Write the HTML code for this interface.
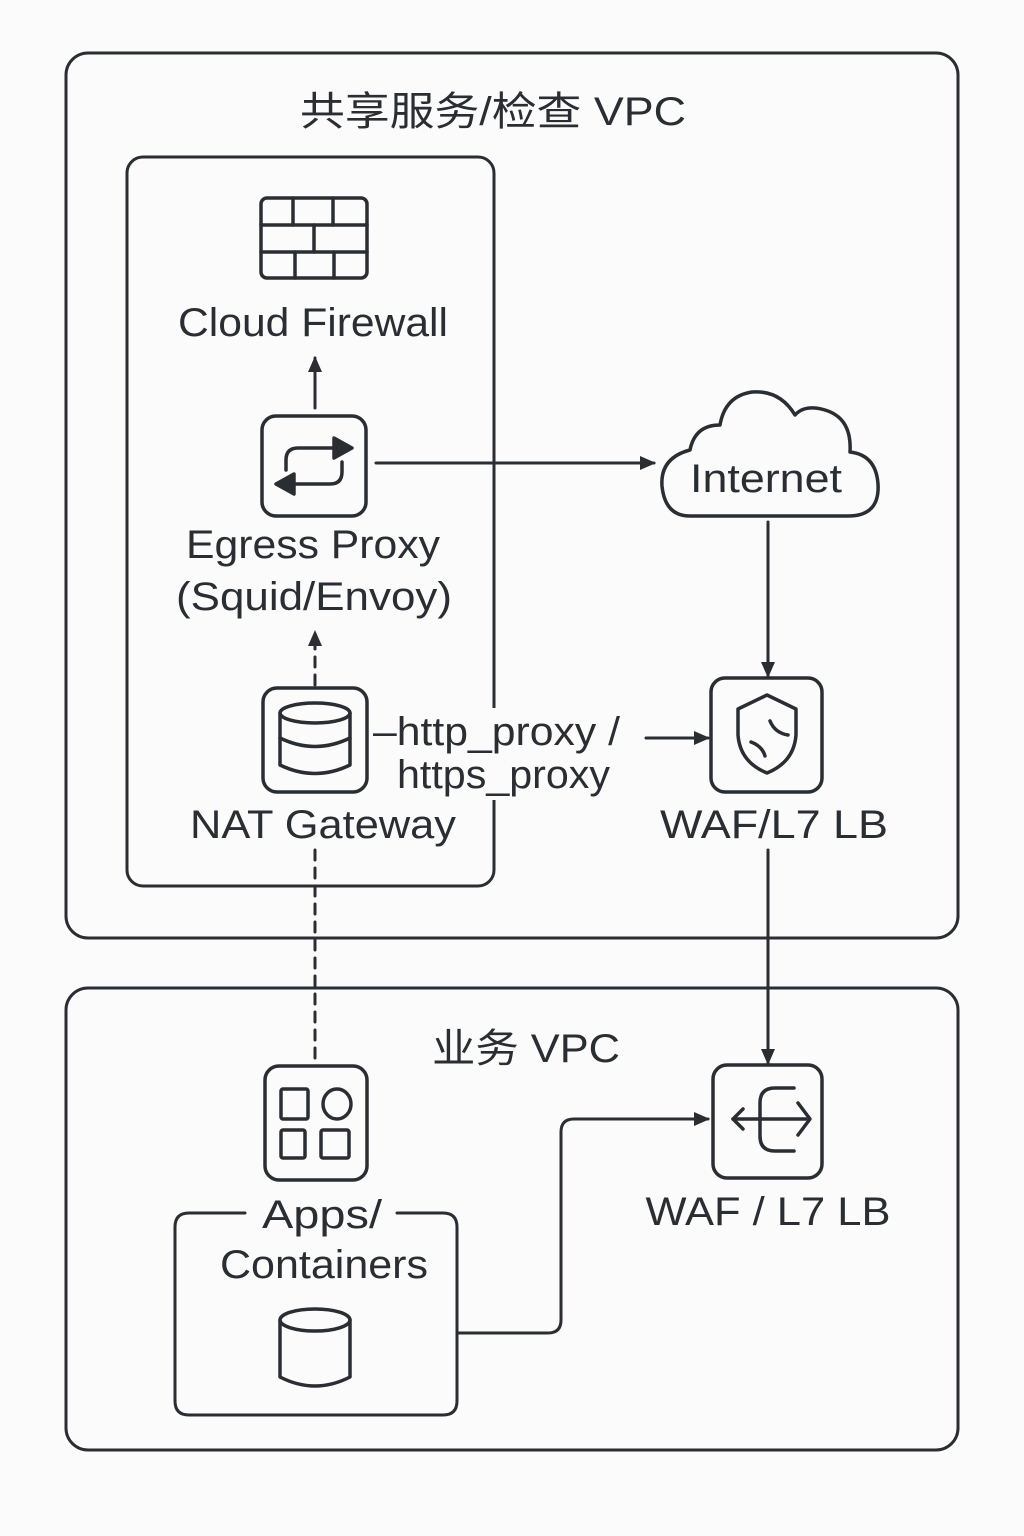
<!DOCTYPE html>
<html><head><meta charset="utf-8"><style>
html,body{margin:0;padding:0;background:#fbfbfc;}
svg{display:block}
text{font-family:"Liberation Sans","Noto Sans CJK SC",sans-serif;fill:#2a2e33}
</style></head><body>
<svg width="1024" height="1536" viewBox="0 0 1024 1536" xmlns="http://www.w3.org/2000/svg">
<defs>
<marker id="ah" markerWidth="16" markerHeight="14" refX="14" refY="7" orient="auto" markerUnits="userSpaceOnUse">
<path d="M0,0 L16,7 L0,14 Z" fill="#2a2e33"/></marker>
</defs>
<g fill="none" stroke="#2a2e33" stroke-width="3" stroke-linecap="round" stroke-linejoin="round">
<rect x="66" y="53" width="892" height="885" rx="22"/>
<rect x="127" y="157" width="367" height="729" rx="16"/>
<rect x="66" y="988" width="892" height="462" rx="22"/>
</g>
<rect x="489" y="708" width="10" height="92" fill="#fbfbfc"/>
<g fill="none" stroke="#2a2e33" stroke-width="3.5" stroke-linecap="round" stroke-linejoin="round">
<!-- firewall icon -->
<rect x="261" y="198" width="106" height="80" rx="6"/>
<line x1="261" y1="225" x2="367" y2="225"/><line x1="261" y1="252" x2="367" y2="252"/>
<line x1="293" y1="198" x2="293" y2="225"/><line x1="333" y1="198" x2="333" y2="225"/>
<line x1="314" y1="225" x2="314" y2="252"/>
<line x1="295" y1="252" x2="295" y2="278"/><line x1="334" y1="252" x2="334" y2="278"/>
</g>
<g fill="none" stroke="#2a2e33" stroke-width="3" stroke-linecap="round" stroke-linejoin="round">
<line x1="315" y1="408" x2="315" y2="358" marker-end="url(#ah)"/>
</g>
<g fill="none" stroke="#2a2e33" stroke-width="3.5" stroke-linecap="round" stroke-linejoin="round">
<rect x="262" y="416" width="104" height="100" rx="14"/>
<path d="M336,448 H298 Q286,448 286,460 V470"/>
<path d="M292,484 H330 Q342,484 342,472 V462"/>
<path d="M334,438 L352,448 L334,458 Z" fill="#2a2e33"/>
<path d="M294,474 L276,484 L294,494 Z" fill="#2a2e33"/>
<rect x="263" y="688" width="104" height="104" rx="14"/>
<ellipse cx="315" cy="713" rx="35" ry="10"/>
<path d="M280,713 V765 Q315,782 350,765 V713"/>
<path d="M280,738 Q315,755 350,738"/>
<path d="M690,516 H848 Q880,516 878,484 Q876,455 850,452 Q852,418 825,410 Q805,404 795,415 Q780,390 752,392 Q725,396 720,425 Q695,425 690,450 Q660,458 662,486 Q665,516 690,516 Z"/>
<rect x="711" y="678" width="111" height="114" rx="14"/>
<path d="M767,695 L796,709 V735 Q794,762 767,773 Q740,762 738,735 V709 Z"/>
<path d="M770,721 Q775,733 788,735"/>
<path d="M751,742 Q762,746 765,756"/>
<rect x="265" y="1066" width="102" height="114" rx="14"/>
<rect x="281" y="1089" width="27" height="30" rx="2"/>
<ellipse cx="337" cy="1104" rx="14" ry="15"/>
<rect x="281" y="1130" width="24" height="28" rx="2"/>
<rect x="321" y="1130" width="28" height="28" rx="2"/>
<ellipse cx="315" cy="1320" rx="35" ry="11"/>
<path d="M280,1320 V1377 Q315,1395 350,1377 V1320"/>
<rect x="713" y="1065" width="109" height="113" rx="14"/>
<path d="M794,1088 H775 Q760,1088 760,1103 V1136 Q760,1151 775,1151 H794"/>
<line x1="733" y1="1119" x2="806" y2="1119"/>
<path d="M743,1109 L733,1119 L743,1129"/>
<path d="M798,1103 L810,1119 L798,1135"/>
</g>
<g fill="none" stroke="#2a2e33" stroke-width="3" stroke-linecap="round" stroke-linejoin="round">
<line x1="376" y1="463" x2="654" y2="463" marker-end="url(#ah)"/>
<line x1="315" y1="685" x2="315" y2="632" stroke-dasharray="10,8" marker-end="url(#ah)"/>
<line x1="315" y1="850" x2="315" y2="1062" stroke-dasharray="10,8"/>
<line x1="646" y1="738" x2="708" y2="738" marker-end="url(#ah)"/>
<line x1="768" y1="522" x2="768" y2="676" marker-end="url(#ah)"/>
<line x1="768" y1="850" x2="768" y2="1063" marker-end="url(#ah)"/>
<path d="M245,1213 H189 Q175,1213 175,1227 V1401 Q175,1415 189,1415 H443 Q457,1415 457,1401 V1227 Q457,1213 443,1213 H397"/>
<path d="M457,1333 H548 Q561,1333 561,1320 V1132 Q561,1119 574,1119 H708" marker-end="url(#ah)"/>
</g>
<g font-size="40" text-anchor="middle">
<text x="493" y="125" textLength="386" lengthAdjust="spacingAndGlyphs">共享服务/检查 VPC</text>
<text x="313" y="336" textLength="270" lengthAdjust="spacingAndGlyphs">Cloud Firewall</text>
<text x="313" y="558" textLength="254" lengthAdjust="spacingAndGlyphs">Egress Proxy</text>
<text x="314" y="610" textLength="276" lengthAdjust="spacingAndGlyphs">(Squid/Envoy)</text>
<text x="323" y="838" textLength="266" lengthAdjust="spacingAndGlyphs">NAT Gateway</text>
<text x="766" y="492" textLength="152" lengthAdjust="spacingAndGlyphs">Internet</text>
<text x="774" y="838" textLength="228" lengthAdjust="spacingAndGlyphs">WAF/L7 LB</text>
<text x="526" y="1062" textLength="188" lengthAdjust="spacingAndGlyphs">业务 VPC</text>
<text x="322" y="1228" textLength="120" lengthAdjust="spacingAndGlyphs">Apps/</text>
<text x="324" y="1278" textLength="208" lengthAdjust="spacingAndGlyphs">Containers</text>
<text x="768" y="1225" textLength="245" lengthAdjust="spacingAndGlyphs">WAF / L7 LB</text>
</g>
<g font-size="40">
<text x="373" y="745" textLength="247" lengthAdjust="spacingAndGlyphs">–http_proxy /</text>
<text x="397" y="788" textLength="213" lengthAdjust="spacingAndGlyphs">https_proxy</text>
</g>
</svg>
</body></html>
